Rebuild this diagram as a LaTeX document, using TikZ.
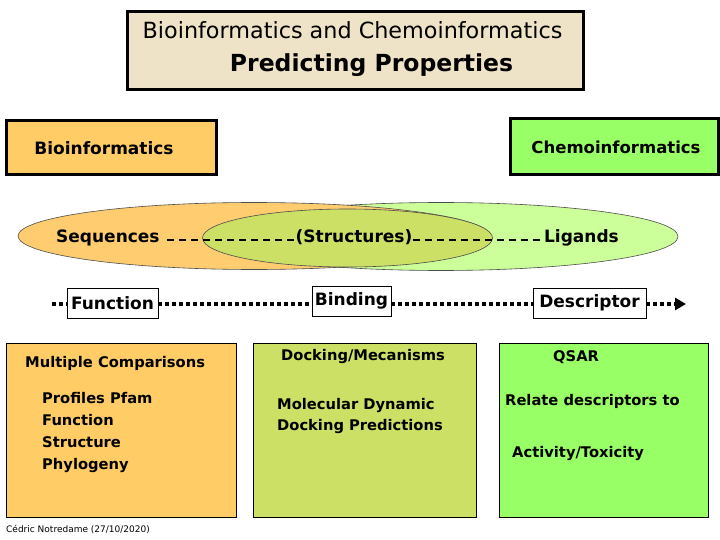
\documentclass[tikz,border=0pt]{standalone}
\usepackage{fontspec}
\setmainfont{DejaVu Sans}
\usetikzlibrary{arrows.meta}
\definecolor{parch}{HTML}{EEE3C6}
\definecolor{bioor}{HTML}{FFCC66}
\definecolor{chemgr}{HTML}{99FF66}
\definecolor{olive}{HTML}{CCE066}
\definecolor{lightgr}{HTML}{CCFF99}
\definecolor{ellor}{HTML}{FFCC70}
\tikzset{
  thickbox/.style={draw=black, line width=3pt, inner sep=0pt},
  thinbox/.style={draw=black, line width=1pt, inner sep=0pt},
  wordbox/.style={draw=black, line width=0.8pt, fill=white, inner sep=0pt, minimum height=30pt, font=\bfseries\fontsize{17}{20}\selectfont},
  lbl/.style={font=\bfseries\fontsize{14.7}{18}\selectfont, inner sep=0pt, anchor=west},
  ovaltext/.style={font=\bfseries\fontsize{17}{20}\selectfont, inner sep=0pt, text height=12pt, text depth=4pt},
  dashline/.style={line width=1.4pt, dash pattern=on 7pt off 5pt},
  dotline/.style={line width=3.2pt, dash pattern=on 4pt off 3pt},
  ell/.style={draw=black!70, line width=0.6pt}
}
\begin{document}
\begin{tikzpicture}[x=1pt,y=-1pt]
\useasboundingbox (0,0) rectangle (720,540);
% title
\node[thickbox, fill=parch, minimum width=456pt, minimum height=78pt] (title) at (355,51) {};
\node[inner sep=0pt, font=\fontsize{22.3}{26}\selectfont] (t1) at (352.5,30) {Bioinformatics and Chemoinformatics};
\node[inner sep=0pt, font=\bfseries\fontsize{23.5}{28}\selectfont] (t2) at (371.5,65) {Predicting Properties};
% top boxes
\node[thickbox, fill=bioor, minimum width=210pt, minimum height=54pt, font=\bfseries\fontsize{17}{20}\selectfont] (bio) at (111,148) {\hspace*{-14pt}Bioinformatics};
\node[thickbox, fill=chemgr, minimum width=208pt, minimum height=56pt, font=\bfseries\fontsize{16.5}{20}\selectfont] (chem) at (614,147) {\hspace*{4pt}Chemoinformatics};
% ellipses
\path[ell, fill=lightgr] (441,236.5) ellipse [x radius=237, y radius=34];
\path[ell, fill=ellor] (254,236) ellipse [x radius=236, y radius=33.5];
\path[ell, fill=olive] (347.5,238) ellipse [x radius=145, y radius=29];
\node[ovaltext, anchor=west] (seq) at (56,239) {Sequences};
\node[ovaltext] (str) at (354,239) {(Structures)};
\node[ovaltext, anchor=east] (lig) at (619,239) {Ligands};
\draw[dashline] ([xshift=7pt,yshift=-1pt]seq.east) -- ([yshift=-1pt]str.west);
\draw[dashline] ([yshift=-1pt]str.east) -- ([yshift=-1pt]lig.west);
% function line
\coordinate (ls) at (52,304);
\coordinate (le) at (686,304);
\node[wordbox, minimum width=91pt] (fn) at (112.5,303) {Function};
\node[wordbox, minimum width=79pt] (bind) at (351.5,301) {Binding};
\node[wordbox, minimum width=113pt] (desc) at (589.5,303) {Descriptor};
\draw[dotline] (ls) -- (fn.west |- ls);
\draw[dotline] (fn.east |- ls) -- (bind.west |- ls);
\draw[dotline] (bind.east |- ls) -- (desc.west |- ls);
\draw[dotline, -{Triangle[length=11pt,width=12pt]}] (desc.east |- ls) -- (le);
% bottom boxes
\node[thinbox, fill=bioor, minimum width=230pt, minimum height=174pt] (b1) at (121,430) {};
\node[thinbox, fill=olive, minimum width=223pt, minimum height=174pt] (b2) at (364.5,430) {};
\node[thinbox, fill=chemgr, minimum width=209pt, minimum height=174pt] (b3) at (603.5,430) {};
\node[lbl] (mc) at (25,363) {Multiple Comparisons};
\node[lbl, align=left, font=\bfseries\fontsize{14.7}{22}\selectfont] (pf) at (42,432) {Profiles Pfam\\Function\\Structure\\Phylogeny};
\node[lbl] (dm) at (281,357) {Docking/Mecanisms};
\node[lbl, align=left, font=\bfseries\fontsize{14.7}{21}\selectfont] (md) at (277,415.5) {Molecular Dynamic\\Docking Predictions};
\node[lbl] (qs) at (553,357) {QSAR};
\node[lbl] (rd) at (505,401) {Relate descriptors to};
\node[lbl] (at) at (512,453) {Activity/Toxicity};
\node[inner sep=0pt, anchor=west, font=\fontsize{9}{11}\selectfont] (cr) at (6,529) {Cédric Notredame (27/10/2020)};
\end{tikzpicture}
\end{document}
